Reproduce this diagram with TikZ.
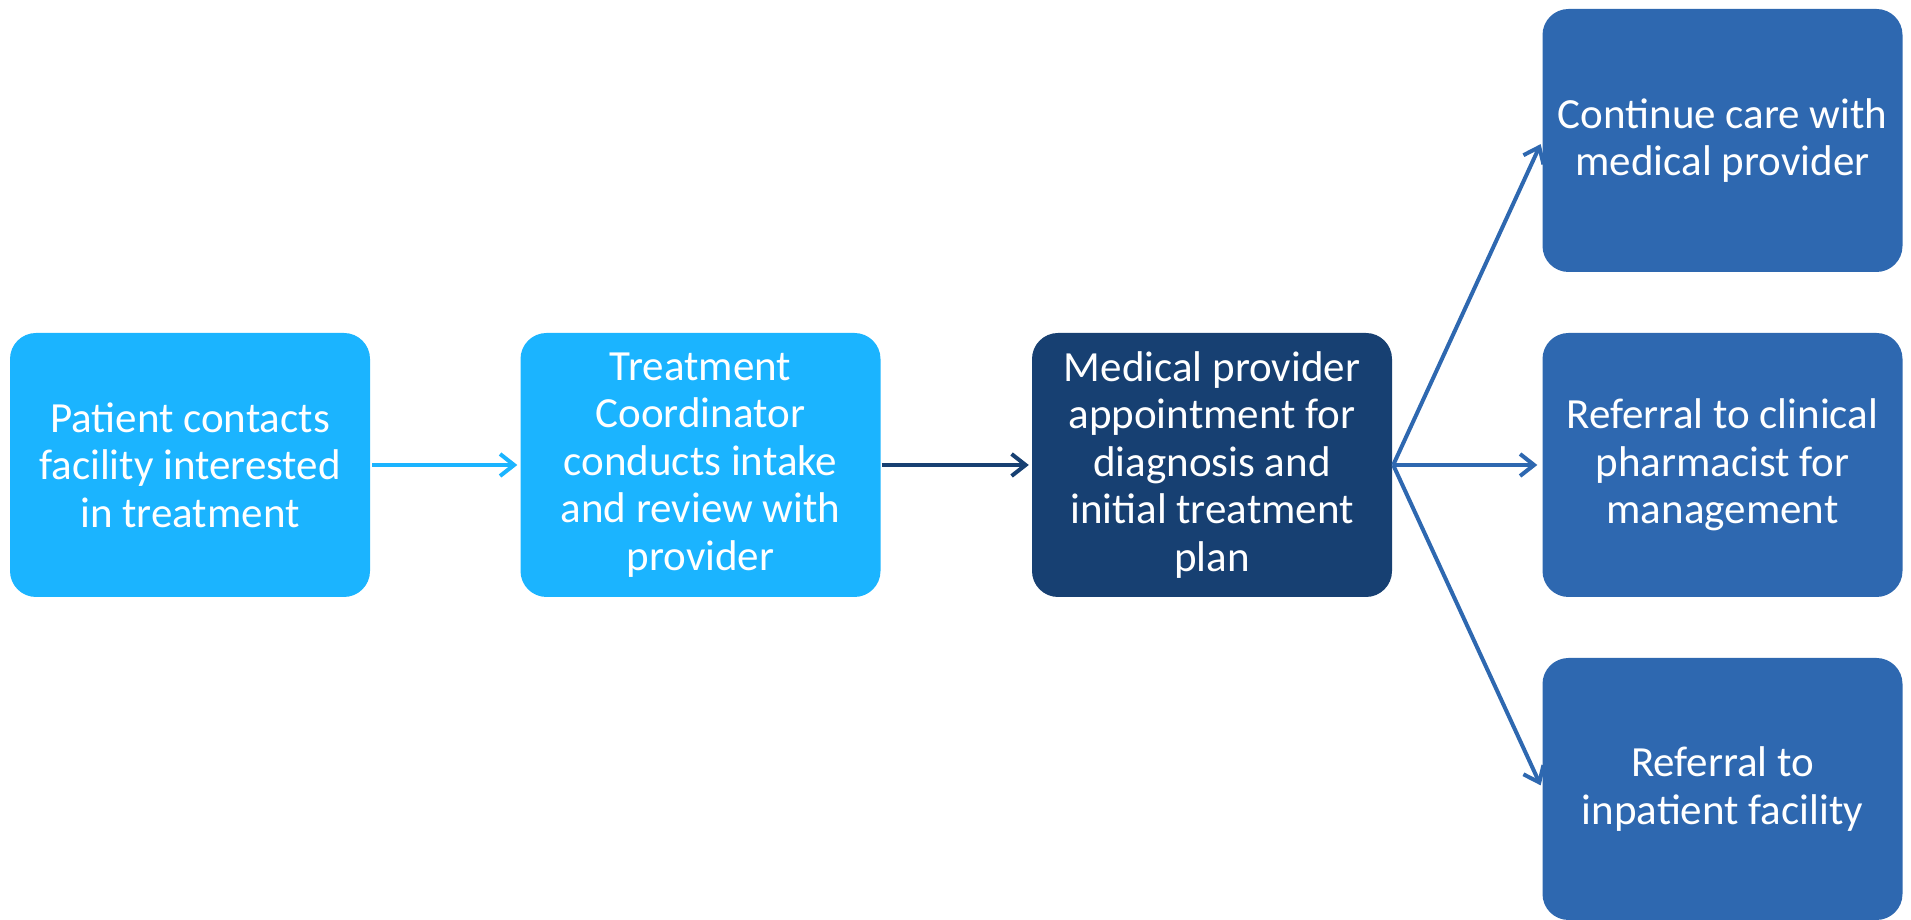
\documentclass[tikz,border=0pt]{standalone}
\usepackage{fontspec}
\setmainfont{Carlito}
\usetikzlibrary{arrows.meta}
\definecolor{lightblue}{RGB}{27,180,255}
\definecolor{navy}{RGB}{23,64,114}
\definecolor{midblue}{RGB}{46,104,176}
\begin{document}
\begin{tikzpicture}[x=1pt,y=1pt,
  box/.style={rounded corners=26pt, minimum width=360pt, minimum height=264pt,
    inner sep=0pt, text=white, align=center,
    font=\fontsize{43}{47.5}\selectfont},
  conn/.style={line width=4pt, -{Straight Barb[length=14pt,width=22pt,line width=4pt]}}
]
\useasboundingbox (0,0) rectangle (1911,920);
\node[box, fill=lightblue] (b1) at (190,455) {Patient contacts\\facility interested\\in treatment};
\node[box, fill=lightblue] (b2) at (700.5,455) {Treatment\\Coordinator\\conducts intake\\and review with\\provider};
\node[box, fill=navy] (b3) at (1212,455) {Medical provider\\appointment for\\diagnosis and\\initial treatment\\plan};
\node[box, fill=midblue, minimum height=263pt] (r1) at (1722.5,779.5) {Continue care with\\medical provider};
\node[box, fill=midblue] (r2) at (1722.5,455) {Referral to clinical\\pharmacist for\\management};
\node[box, fill=midblue, minimum height=262pt] (r3) at (1722.5,131) {Referral to\\inpatient facility};
\draw[conn, lightblue, shorten <=2pt, shorten >=3pt] (b1.east) -- (b2.west);
\draw[conn, navy, shorten <=1pt, shorten >=3pt] (b2.east) -- (b3.west);
\coordinate (fan) at ([xshift=1pt]b3.east);
\draw[conn, midblue, shorten >=4pt] (fan) -- (r1.west);
\draw[conn, midblue, shorten >=5pt] (fan) -- (r2.west);
\draw[conn, midblue, shorten >=4pt] (fan) -- (r3.west);
\end{tikzpicture}
\end{document}
